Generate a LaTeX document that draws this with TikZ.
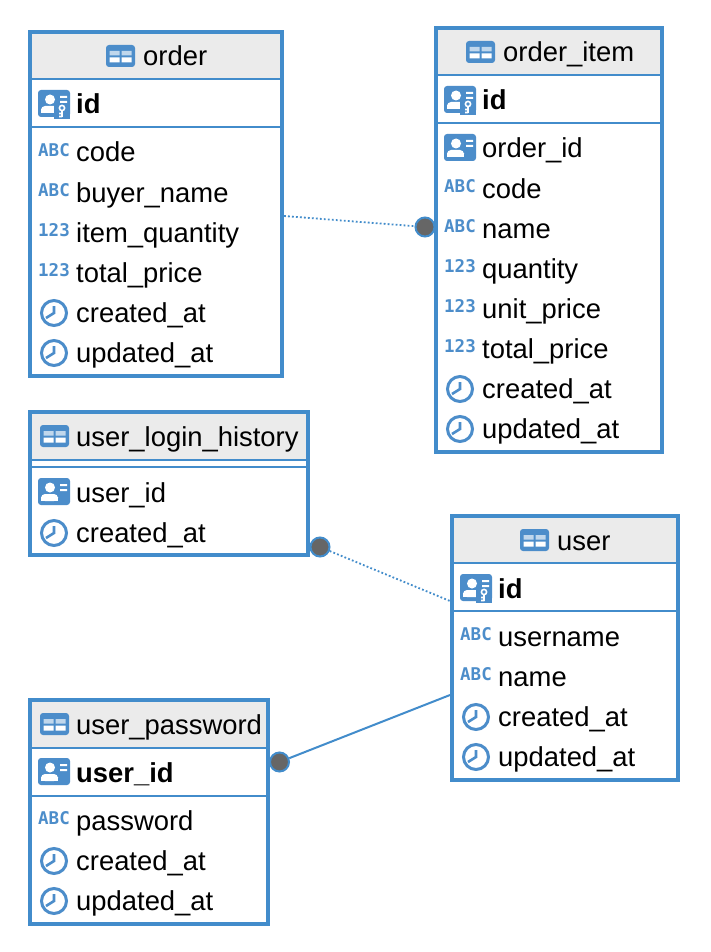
\documentclass[tikz,border=0pt]{standalone}
\usepackage{fontspec}
\setmainfont{Liberation Sans}
\newfontfamily\iconfont{DejaVu Sans Mono}
\usetikzlibrary{positioning, fit, calc}
\definecolor{erblue}{HTML}{428CCB}
\definecolor{iconblue}{HTML}{4C8DCA}
\definecolor{headgray}{HTML}{EBEBEB}
\definecolor{dotgray}{HTML}{666666}
\tikzset{
    x=1pt, y=-1pt,
    tablebox/.style={draw=erblue, line width=4pt, inner sep=0pt},
    headbox/.style={fill=headgray, inner sep=0pt},
    rowline/.style={draw=erblue, line width=2pt},
    title/.style={anchor=base west, inner sep=0pt, font=\fontsize{27.4}{30}\selectfont},
    field/.style={anchor=base west, inner sep=0pt, font=\fontsize{27.4}{30}\selectfont},
    keyfield/.style={anchor=base west, inner sep=0pt, font=\fontsize{27.4}{30}\selectfont\bfseries},
    rellink/.style={draw=erblue, line width=2pt},
    dotlink/.style={draw=erblue, line width=1.8pt, dash pattern=on 1.8pt off 2.2pt},
    reldot/.style={circle, fill=dotgray, draw=erblue, line width=2pt, minimum size=19pt, inner sep=0pt},
    tableicon/.pic = {
        \fill[iconblue, rounded corners=3pt] (-14.5,-11) rectangle (14.5,11);
        \fill[white!65!iconblue] (-11,-5) rectangle (-1,-0.5) (1,-5) rectangle (11,-0.5);
        \fill[white] (-11,1.5) rectangle (-1,6.5) (1,1.5) rectangle (11,6.5);
    },
    persicon/.pic = {
        \fill[iconblue, rounded corners=3pt] (0,-14) rectangle (32,13);
        \fill[white] (12,-4.5) circle (5);
        \fill[white, rounded corners=4pt] (3,9) -- (3,2) -- (20,2) -- (20,9) -- cycle;
        \fill[white] (3,6) rectangle (20,9);
        \fill[white] (22,-8) rectangle (29,-6) (22,-3) rectangle (29,-1);
    },
    keyicon/.pic = {
        \fill[iconblue, rounded corners=3pt] (0,-14) rectangle (32,13);
        \fill[white] (12,-4.5) circle (5);
        \fill[white, rounded corners=4pt] (3,9) -- (3,2) -- (20,2) -- (20,9) -- cycle;
        \fill[white] (3,6) rectangle (20,9);
        \fill[white] (22,-8) rectangle (29,-6) (22,-3) rectangle (29,-1);
        \fill[iconblue] (16,0) rectangle (32,15);
        \draw[white, line width=1.6pt] (24,4) circle (2.6) (24,6.6) -- (24,13) (24,9.5) -- (21,9.5) (24,12.5) -- (21,12.5);
    },
    abcicon/.pic = {
        \node[inner sep=0pt, text=iconblue, font=\iconfont\fontsize{17.5}{18}\selectfont\bfseries] (-abc) at (16,-3) {ABC};
    },
    numicon/.pic = {
        \node[inner sep=0pt, text=iconblue, font=\iconfont\fontsize{17.5}{18}\selectfont\bfseries] (-num) at (16,-3) {123};
    },
    clockicon/.pic = {
        \draw[iconblue, line width=3pt] (16,0) circle (12.5);
        \draw[iconblue, line width=2.6pt] (16,-7) -- (16,0) -- (8,5);
    },
}
% one table: name, corners, bottom of the header
\newcommand{\ertable}[6]{
    \node[headbox, fit={(#2,#3) (#4,#6)}] (#1-head) {};
    \node[tablebox, fit={(#2,#3) (#4,#5)}] (#1) {};
    \draw[rowline] (#1.west |- #1-head.south) -- (#1.east |- #1-head.south);
}

\begin{document}
\begin{tikzpicture}
    \useasboundingbox (0,0) rectangle (710,952);
    \fill[white] (0,0) rectangle (710,952);

    % order
    \ertable{order}{30}{32}{282}{376}{79}
    \draw[rowline] (order.west |- 0,127) -- (order.east |- 0,127);
    \pic at (120.5,56) {tableicon};
    \node[title] (order-name) at (143,66) {order};
    \pic at (38,104) {keyicon};
    \node[keyfield] (order-id) at (76,114) {id};
    \foreach \yy/\ic/\txt in {153/abcicon/code, 193/abcicon/buyer\_name, 233/numicon/item\_quantity,
        273/numicon/total\_price, 313/clockicon/created\_at, 353/clockicon/updated\_at} {
        \pic at (38,\yy) {\ic};
        \node[field] (order-\yy) at (76,\yy+9) {\txt};
    }

    % order_item
    \ertable{item}{436}{28}{662}{452}{75}
    \draw[rowline] (item.west |- 0,123) -- (item.east |- 0,123);
    \pic at (480.5,52) {tableicon};
    \node[title] (item-name) at (503,62) {order\_item};
    \pic at (444,100) {keyicon};
    \node[keyfield] (item-id) at (482,110) {id};
    \pic at (444,148) {persicon};
    \node[field] (item-149) at (482,158) {order\_id};
    \foreach \yy/\ic/\txt in {189/abcicon/code, 229/abcicon/name, 269/numicon/quantity,
        309/numicon/unit\_price, 349/numicon/total\_price, 389/clockicon/created\_at, 429/clockicon/updated\_at} {
        \pic at (444,\yy) {\ic};
        \node[field] (item-\yy) at (482,\yy+9) {\txt};
    }

    % user_login_history
    \ertable{login}{30}{412}{308}{555}{460}
    \draw[rowline] (login.west |- 0,467) -- (login.east |- 0,467);
    \pic at (54.5,436) {tableicon};
    \node[title] (login-name) at (76,446) {user\_login\_history};
    \pic at (38,492) {persicon};
    \node[field] (login-493) at (76,502) {user\_id};
    \pic at (38,533) {clockicon};
    \node[field] (login-533) at (76,542) {created\_at};

    % user
    \ertable{user}{452}{516}{678}{780}{563}
    \draw[rowline] (user.west |- 0,611) -- (user.east |- 0,611);
    \pic at (534.5,540) {tableicon};
    \node[title] (user-name) at (557,550) {user};
    \pic at (460,588) {keyicon};
    \node[keyfield] (user-id) at (498,598) {id};
    \foreach \yy/\ic/\txt in {637/abcicon/username, 677/abcicon/name, 717/clockicon/created\_at, 757/clockicon/updated\_at} {
        \pic at (460,\yy) {\ic};
        \node[field] (user-\yy) at (498,\yy+9) {\txt};
    }

    % user_password
    \ertable{pass}{30}{700}{268}{924}{748}
    \draw[rowline] (pass.west |- 0,796) -- (pass.east |- 0,796);
    \pic at (54.5,724) {tableicon};
    \node[title] (pass-name) at (76,734) {user\_password};
    \pic at (38,772) {persicon};
    \node[keyfield] (pass-id) at (76,782) {user\_id};
    \foreach \yy/\ic/\txt in {821/abcicon/password, 861/clockicon/created\_at, 901/clockicon/updated\_at} {
        \pic at (38,\yy) {\ic};
        \node[field] (pass-\yy) at (76,\yy+9) {\txt};
    }

    % relations
    \coordinate (order-out) at (284,216);
    \coordinate (user-top) at (450,601);
    \coordinate (user-low) at (450,695);
    \node[reldot] (item-dot) at (425,227) {};
    \node[reldot] (login-dot) at (320,547) {};
    \node[reldot] (pass-dot) at (279.5,762) {};
    \draw[dotlink] (order-out) -- (item-dot);
    \draw[dotlink] (login-dot) -- (user-top);
    \draw[rellink] (pass-dot) -- (user-low);
\end{tikzpicture}
\end{document}
